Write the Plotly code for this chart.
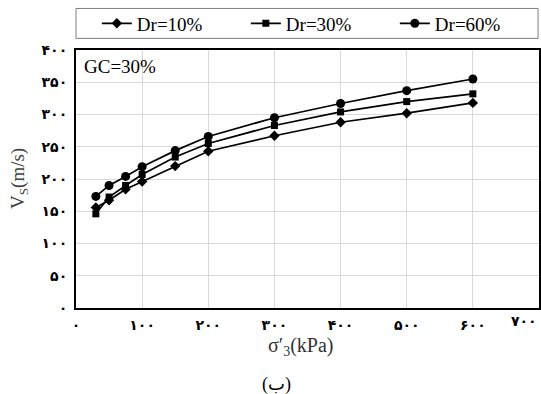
import plotly.graph_objects as go

# Data
confining_kpa = [30, 50, 75, 100, 150, 200, 300, 400, 500, 600]
vs_dr10 = [156, 167, 184, 196, 220, 243, 267, 288, 302, 318]
vs_dr30 = [146, 172, 190, 207, 234, 255, 283, 304, 320, 332]
vs_dr60 = [173, 190, 204, 219, 244, 266, 295, 317, 337, 355]

series_names = ["Dr=10%", "Dr=30%", "Dr=60%"]
series_symbols = ["diamond", "square", "circle"]
series_sizes = [8, 7, 9]

x_tick_vals = [0, 100, 200, 300, 400, 500, 600, 700]
x_tick_text = ["۰", "۱۰۰", "۲۰۰", "۳۰۰", "۴۰۰", "۵۰۰", "۶۰۰", "۷۰۰"]
y_tick_vals = [0, 50, 100, 150, 200, 250, 300, 350, 400]
y_tick_text = ["۰", "۵۰", "۱۰۰", "۱۵۰", "۲۰۰", "۲۵۰", "۳۰۰", "۳۵۰", "۴۰۰"]

SERIF = "Liberation Serif, Times New Roman, DejaVu Serif, serif"
DIGITS = "DejaVu Sans, Noto Sans, sans-serif"

fig = go.Figure()
for name, ys, sym, sz in zip(series_names, [vs_dr10, vs_dr30, vs_dr60], series_symbols, series_sizes):
    fig.add_trace(go.Scatter(
        x=confining_kpa, y=ys, name=name, mode="lines+markers",
        line=dict(color="black", width=1.7),
        marker=dict(symbol=sym, size=sz, color="black"),
    ))

fig.update_layout(
    width=541, height=394,
    margin=dict(l=76, r=2, t=50, b=86, autoexpand=False),
    paper_bgcolor="white", plot_bgcolor="white",
    showlegend=True,
    legend=dict(
        orientation="h", x=0.045, xanchor="left", y=1.103, yanchor="middle",
        entrywidth=104, entrywidthmode="pixels",
        font=dict(family=SERIF, size=19, color="black"),
        bgcolor="rgba(0,0,0,0)", borderwidth=0,
    ),
    shapes=[dict(type="rect", xref="paper", yref="paper",
                 x0=0.0, x1=0.998, y0=1.045, y1=1.161,
                 line=dict(color="#7f7f7f", width=1), fillcolor="rgba(0,0,0,0)")],
    annotations=[
        dict(text="GC=30%", xref="paper", yref="paper", x=0.013, y=0.937,
             xanchor="left", yanchor="middle", showarrow=False,
             font=dict(family=SERIF, size=19, color="black")),
        dict(text="σ′<sub>3</sub>(kPa)", xref="paper", yref="paper", x=0.484, y=-0.151,
             xanchor="center", yanchor="middle", showarrow=False,
             font=dict(family=SERIF, size=20, color="#333333")),
        dict(text="V<sub>S</sub>(m/s)", xref="paper", yref="paper", x=-0.123, y=0.5,
             xanchor="center", yanchor="middle", showarrow=False, textangle=-90,
             font=dict(family=SERIF, size=19, color="#404040")),
        dict(text="(ب)", xref="paper", yref="paper", x=0.434, y=-0.295,
             xanchor="center", yanchor="middle", showarrow=False,
             font=dict(family=SERIF + ", DejaVu Sans", size=18, color="black")),
        dict(text=x_tick_text[-1], xref="x", yref="paper", x=x_tick_vals[-1], y=-0.01,
             xanchor="right", yanchor="top", showarrow=False,
             font=dict(family=DIGITS, size=14, color="black", weight="bold")),
    ],
)

fig.update_xaxes(
    range=[0, 700], tickmode="array", tickvals=x_tick_vals,
    ticktext=x_tick_text[:-1] + [""],
    tickfont=dict(family=DIGITS, size=14, color="black", weight="bold"),
    showgrid=True, gridcolor="#d9d9d9", gridwidth=1,
    showline=True, linecolor="black", linewidth=2, mirror=True,
    ticks="", zeroline=False, ticklabelstandoff=3, automargin=False,
)
fig.update_yaxes(
    range=[0, 400], tickmode="array", tickvals=y_tick_vals, ticktext=y_tick_text,
    tickfont=dict(family=DIGITS, size=14, color="black", weight="bold"),
    showgrid=True, gridcolor="#d9d9d9", gridwidth=1,
    showline=True, linecolor="black", linewidth=2, mirror=True,
    ticks="", zeroline=False, ticklabelstandoff=4, automargin=False,
)

fig.write_html("out.html")
